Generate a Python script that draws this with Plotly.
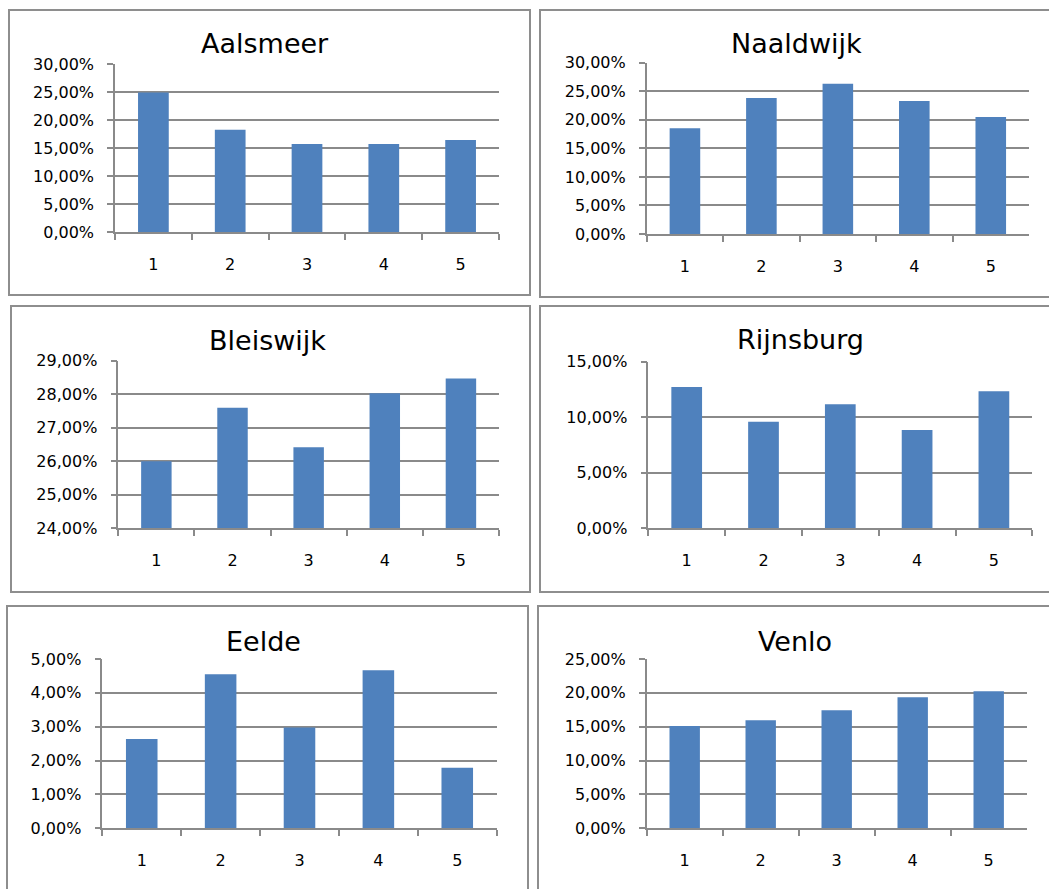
import plotly.graph_objects as go

# Share per category (percent) for each location
categories = ["1", "2", "3", "4", "5"]
aalsmeer = [24.95, 18.3, 15.75, 15.75, 16.5]
naaldwijk = [18.5, 23.8, 26.3, 23.3, 20.5]
bleiswijk = [26.0, 27.6, 26.42, 28.03, 28.47]
rijnsburg = [12.72, 9.6, 11.16, 8.85, 12.33]
eelde = [2.64, 4.55, 2.98, 4.67, 1.79]
venlo = [15.1, 15.95, 17.42, 19.34, 20.23]

titles = ["Aalsmeer", "Naaldwijk", "Bleiswijk", "Rijnsburg", "Eelde", "Venlo"]
series = [aalsmeer, naaldwijk, bleiswijk, rijnsburg, eelde, venlo]
y_ranges = [(0, 30), (0, 30), (24, 29), (0, 15), (0, 5), (0, 25)]
y_steps = [5, 5, 1, 5, 1, 5]

W, H = 1049, 889
BAR = "#4F81BD"
GRID = "#8a8a8a"
FRAME = "#8e8e8e"
FONT = "DejaVu Sans"

# pixel layout: plot area (x0, x1, y0, y1) and chart frame (x0, y0, x1, y1)
plot_px = [
    (115, 499, 64.3, 232.3),
    (646.7, 1029, 62.7, 234),
    (118.3, 499, 360.7, 528.3),
    (648.3, 1032.3, 361.7, 528.3),
    (102.3, 496.7, 659, 828.3),
    (646.7, 1026.7, 659, 828.3),
]
frame_px = [
    (9, 10, 530, 295),
    (540, 10, 1053, 297),
    (11, 306, 530, 592),
    (540, 306, 1053, 592),
    (7, 606, 528, 895),
    (538, 606, 1053, 895),
]
title_px = [(265, 44), (796, 44), (267, 340), (800, 339), (263, 641), (795, 641)]

fig = go.Figure()
layout = dict(
    width=W, height=H,
    margin=dict(l=0, r=0, t=0, b=0, pad=0, autoexpand=False),
    paper_bgcolor="white", plot_bgcolor="white",
    showlegend=False, bargap=0.6,
    separators=",.",
    font=dict(family=FONT, size=16, color="black"),
    shapes=[], annotations=[],
)

for i, (vals, (ymin, ymax), step) in enumerate(zip(series, y_ranges, y_steps)):
    n = "" if i == 0 else str(i + 1)
    fig.add_trace(go.Bar(
        x=categories, y=vals, marker=dict(color=BAR, line=dict(width=0)),
        xaxis="x" + n, yaxis="y" + n,
    ))
    x0, x1, y0, y1 = plot_px[i]
    layout["xaxis" + n] = dict(
        domain=[x0 / W, x1 / W], anchor="y" + n, type="category",
        showline=True, linecolor=GRID, linewidth=1.5,
        ticks="outside", tickson="boundaries", ticklen=6, tickcolor=GRID, tickwidth=1.5,
        ticklabelstandoff=17, tickfont=dict(size=16, family=FONT, color="black"),
        showgrid=False, fixedrange=True, automargin=False,
    )
    layout["yaxis" + n] = dict(
        domain=[1 - y1 / H, 1 - y0 / H], anchor="x" + n,
        range=[ymin, ymax], dtick=step, tick0=0,
        tickformat=".2f", ticksuffix="%",
        showline=True, linecolor=GRID, linewidth=1.5,
        ticks="outside", ticklen=6, tickcolor=GRID, tickwidth=1.5,
        ticklabelstandoff=10, tickfont=dict(size=16, family=FONT, color="black"),
        showgrid=True, gridcolor=GRID, gridwidth=1.5, zeroline=False, fixedrange=True,
        automargin=False,
    )
    fx0, fy0, fx1, fy1 = frame_px[i]
    layout["shapes"].append(dict(
        type="rect", xref="paper", yref="paper",
        x0=fx0 / W, x1=fx1 / W, y0=1 - fy1 / H, y1=1 - fy0 / H,
        line=dict(color=FRAME, width=2), fillcolor="rgba(0,0,0,0)", layer="below",
    ))
    tx, ty = title_px[i]
    layout["annotations"].append(dict(
        text=titles[i], xref="paper", yref="paper", x=tx / W, y=1 - ty / H,
        xanchor="center", yanchor="middle", showarrow=False,
        font=dict(family=FONT, size=27, color="black"),
    ))

fig.update_layout(**layout)
fig.write_html("out.html")
